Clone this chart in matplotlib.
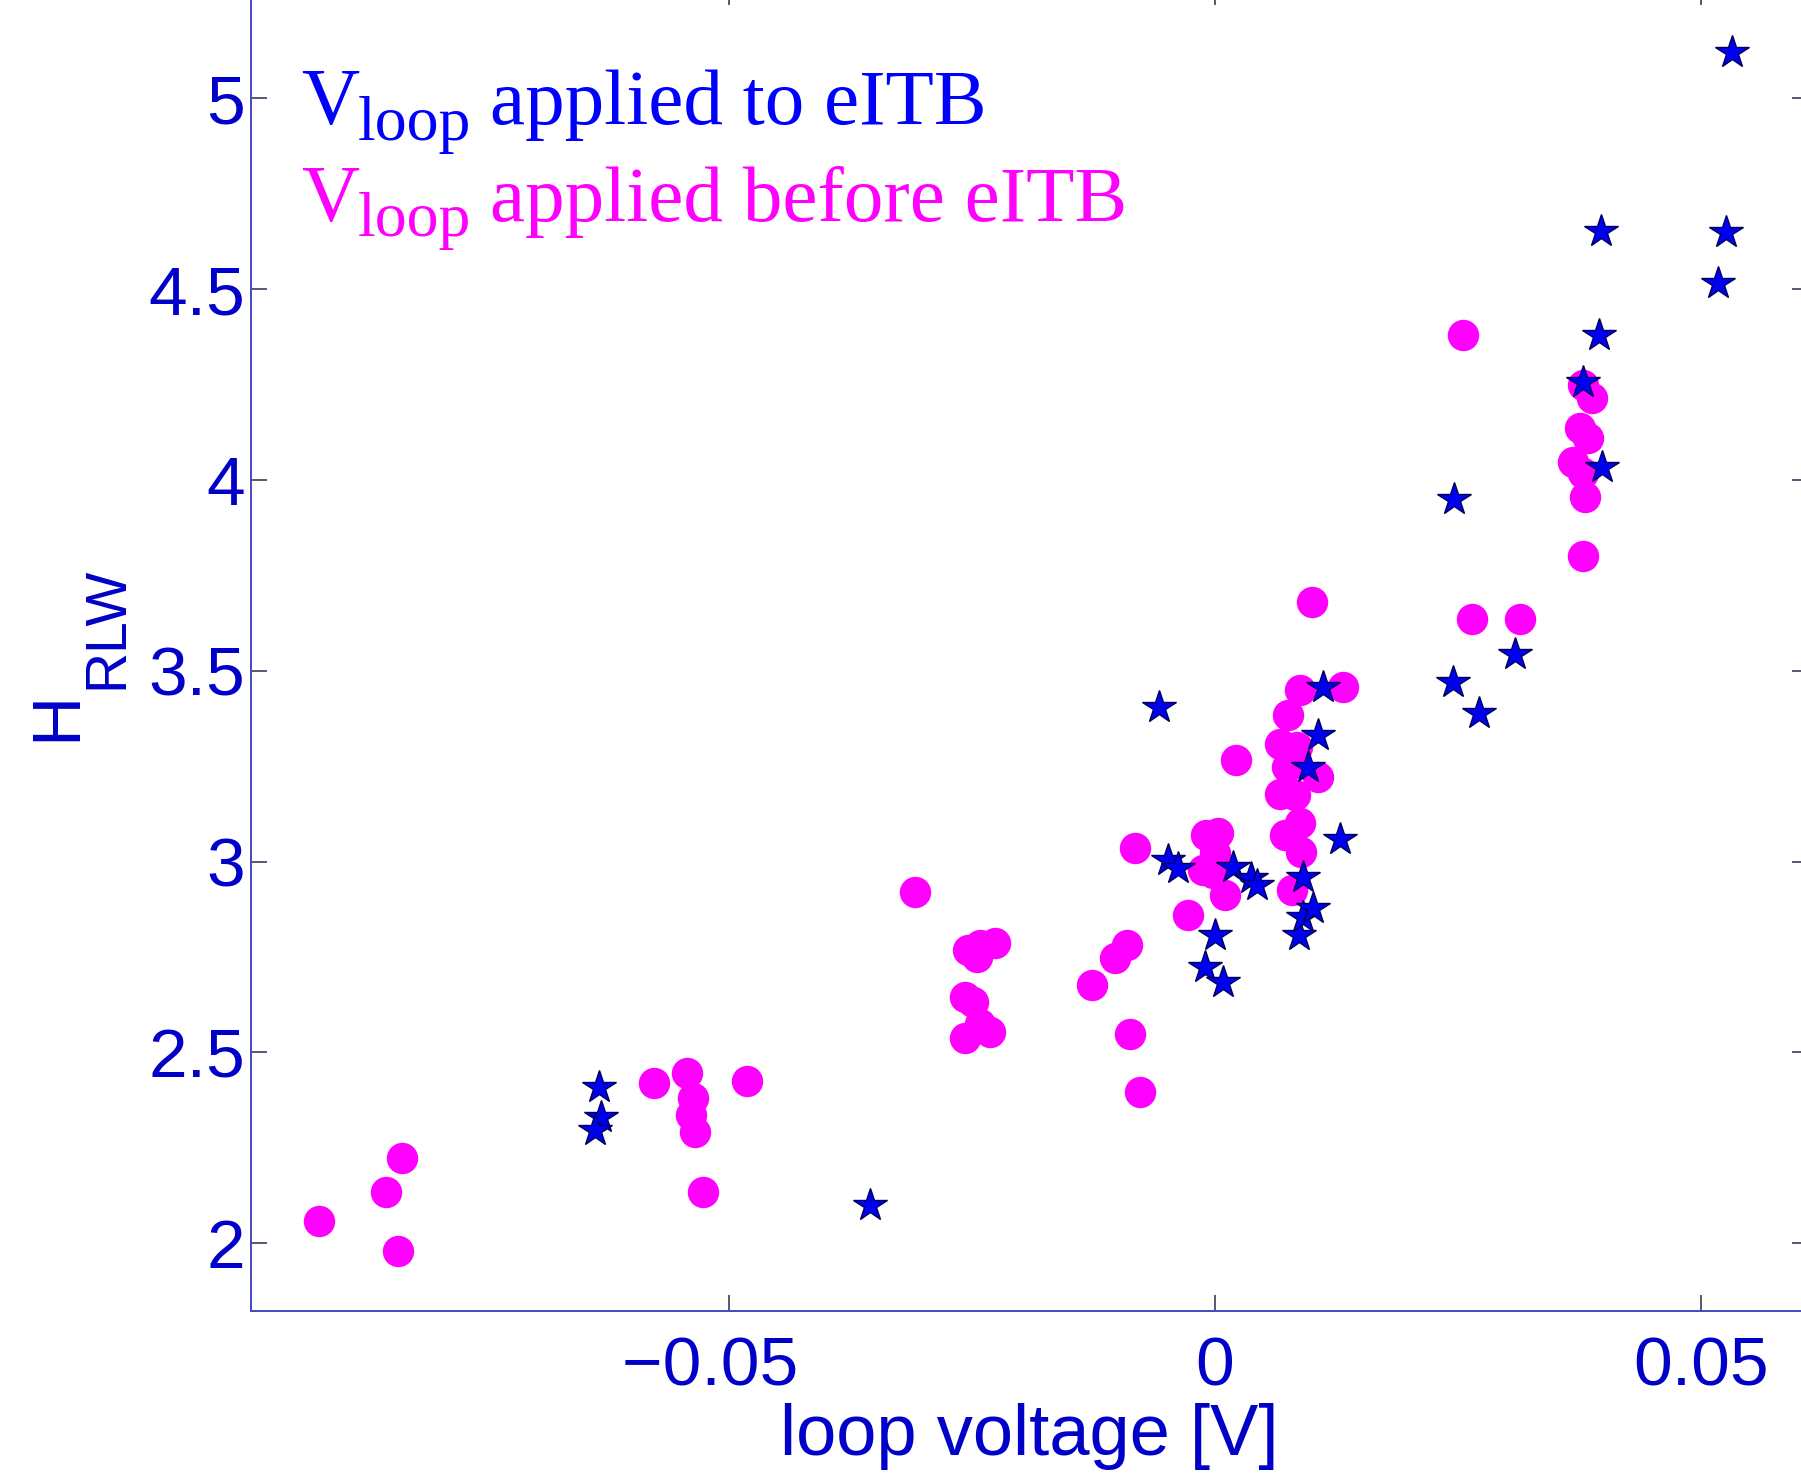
import matplotlib
matplotlib.use("Agg")
import matplotlib.pyplot as plt

# H_RLW against loop voltage, two groups of shots
before_v = [-0.0922, -0.0853, -0.0837, -0.0841, -0.0578, -0.0544, -0.0537, -0.0539,
            -0.0535, -0.0527, -0.0482, -0.0309, -0.0254, -0.0242, -0.0227, -0.0245,
            -0.0257, -0.0249, -0.0257, -0.0232, -0.0242, -0.0127, -0.0103, -0.0091,
            -0.0088, -0.0077, -0.0082, -0.0028, 0.0022, -0.0009, 0.0003, 0.0000,
            -0.0012, -0.0002, 0.0010, 0.0087, 0.0132, 0.0075, 0.0067, 0.0084,
            0.0074, 0.0106, 0.0067, 0.0082, 0.0087, 0.0072, 0.0089, 0.0079,
            0.0100, 0.0255, 0.0379, 0.0388, 0.0376, 0.0384, 0.0369, 0.0379,
            0.0381, 0.0379, 0.0265, 0.0314]
before_h = [2.058, 2.135, 2.224, 1.981, 2.421, 2.445, 2.380, 2.336,
            2.292, 2.135, 2.425, 2.921, 2.768, 2.781, 2.788, 2.751,
            2.646, 2.632, 2.537, 2.554, 2.575, 2.678, 2.747, 2.781,
            2.548, 2.397, 3.037, 2.860, 3.266, 3.070, 3.074, 3.022,
            2.978, 2.969, 2.913, 3.450, 3.458, 3.384, 3.309, 3.300,
            3.249, 3.222, 3.178, 3.174, 3.100, 3.070, 3.026, 2.926,
            3.681, 4.380, 4.249, 4.214, 4.135, 4.109, 4.048, 4.017,
            3.956, 3.801, 3.635, 3.635]

during_v = [-0.0634, -0.0632, -0.0638, -0.0355, -0.0058, -0.0048, -0.0038, 0.0019,
            0.0037, 0.0043, 0.0000, -0.0010, 0.0008, 0.0086, 0.0091, 0.0101,
            0.0091, 0.0129, 0.0111, 0.0106, 0.0096, 0.0395, 0.0379, 0.0398,
            0.0246, 0.0309, 0.0245, 0.0272, 0.0532, 0.0397, 0.0526, 0.0518]
during_h = [2.410, 2.332, 2.297, 2.100, 3.405, 3.005, 2.982, 2.985,
            2.957, 2.938, 2.808, 2.725, 2.685, 2.808, 2.856, 2.878,
            2.960, 3.060, 3.458, 3.332, 3.249, 4.380, 4.257, 4.035,
            3.949, 3.544, 3.471, 3.390, 5.122, 4.652, 4.649, 4.515]

x_ticks = [-0.05, 0, 0.05]
x_tick_labels = ["\u22120.05  ", "0", "0.05"]
y_ticks = [2, 2.5, 3, 3.5, 4, 4.5, 5]
y_tick_labels = ["2", "2.5", "3", "3.5", "4", "4.5", "5"]

W, H = 1801, 1477
fig = plt.figure(figsize=(W / 100, H / 100), dpi=100)
fig.patch.set_facecolor("white")

# axes box runs a little past the top and right edge of the figure
left, right, top, bottom = 250.7, 1808.0, -11.0, 1310.7
ax = fig.add_axes([left / W, 1 - bottom / H, (right - left) / W, (bottom - top) / H])

ax.plot(before_v, before_h, "o", color="#ff00ff", markersize=21.6,
        markeredgecolor="#ff00ff", linestyle="none", zorder=3)
ax.plot(during_v, during_h, "*", color="#0000f0", markersize=25,
        markeredgecolor="#00005a", markeredgewidth=1.0, linestyle="none", zorder=4)

ax.set_xlim(-0.09928, 0.06105)
ax.set_ylim(1.8234, 5.2863)

tick_blue = "#0000c8"
ax.set_xticks(x_ticks)
ax.set_xticklabels(x_tick_labels)
ax.set_yticks(y_ticks)
ax.set_yticklabels(y_tick_labels)
ax.tick_params(direction="in", length=11.5, width=1.1, color="#2a2a50",
               labelsize=50, labelcolor=tick_blue, top=True, right=True)
ax.tick_params(axis="x", pad=18)
ax.tick_params(axis="y", pad=4)
for lab in ax.get_xticklabels() + ax.get_yticklabels():
    lab.set_family("Liberation Sans")

for s in ax.spines.values():
    s.set_color("#4848c0")
    s.set_linewidth(1.4)

ax.set_xlabel("loop voltage [V]", fontsize=52, color=tick_blue, family="Liberation Sans")
ax.xaxis.set_label_coords(0.5, -0.070)


def px(x, y):
    return x / W, 1 - y / H


# y label: H with a deep RLW subscript
fig.text(*px(25, 741), "H", rotation=90, ha="left", va="bottom", fontsize=50,
         color=tick_blue, family="Liberation Sans")
fig.text(*px(80, 689), "RLW", rotation=90, ha="left", va="bottom", fontsize=41,
         color=tick_blue, family="Liberation Sans")

# legend written as coloured text
legend_rows = [("applied to eITB", "#0000ff", 124), ("applied before eITB", "#ff00ff", 220.5)]
for words, col, base in legend_rows:
    fig.text(*px(301, base), "V", fontsize=58, color=col,
             family="Liberation Serif", va="baseline", ha="left")
    fig.text(*px(358, base + 16), "loop", fontsize=46, color=col,
             family="Liberation Serif", va="baseline", ha="left")
    fig.text(*px(490.5, base), words, fontsize=57, color=col,
             family="Liberation Serif", va="baseline", ha="left")

fig.savefig("out.png", dpi=100)
